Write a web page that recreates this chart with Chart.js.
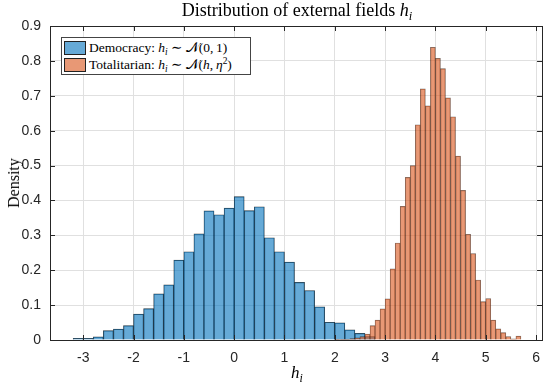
<!DOCTYPE html>
<html>
<head>
<meta charset="utf-8">
<script src="https://cdn.jsdelivr.net/npm/chart.js@4.4.0/dist/chart.umd.min.js"></script>
<style>
    body { margin: 0; background: #fff; }
    #wrap { position: relative; width: 550px; height: 386px; }
    .tex { position: absolute; font-family: 'Liberation Serif', 'DejaVu Serif', serif; color: #000; white-space: nowrap; }
    #title { left: 50px; width: 494px; top: 0px; text-align: center; font-size: 18px; }
    #xlabel { left: 50px; width: 494px; top: 363px; text-align: center; font-size: 17px; }
    #ylabel { left: 14px; top: 183px; font-size: 16px; transform: translate(-50%, -50%) rotate(-90deg); }
    #legend { left: 61px; top: 37px; width: 188px; border: 1px solid #444; background: #fff; font-size: 13.5px; padding: 1px 0; }
    .row { display: flex; align-items: center; height: 17px; }
    .swatch { width: 22px; height: 14px; margin: 0 3px 0 2px; box-sizing: border-box; border: 1px solid #222; }
    sub { font-size: 70%; vertical-align: -0.3em; line-height: 0; }
</style>
</head>
<body>
<div id="wrap">
    <canvas id="chart" width="550" height="386"></canvas>
    <div id="title" class="tex">Distribution of external fields <i>h<sub>i</sub></i></div>
    <div id="xlabel" class="tex"><i>h<sub>i</sub></i></div>
    <div id="ylabel" class="tex">Density</div>
    <div id="legend" class="tex"></div>
</div>
<script>
// Histogram bins (left edge of first bin and bin width)
const democracyBinStart = -3.2;
const democracyBinWidth = 0.2;
const totalitarianBinStart = 2.0;
const totalitarianBinWidth = 0.1;

// Density of each bin
const democracyDensity = [0.005, 0.005, 0.009, 0.027, 0.031, 0.041, 0.074, 0.090, 0.132, 0.158,
    0.229, 0.253, 0.304, 0.370, 0.359, 0.378, 0.411, 0.371, 0.382, 0.293,
    0.253, 0.223, 0.165, 0.142, 0.095, 0.051, 0.049, 0.029, 0.019, 0.010];

const totalitarianDensity = [0.002, 0.002, 0.002, 0.004, 0.006, 0.010, 0.017, 0.041, 0.057, 0.089,
    0.118, 0.204, 0.278, 0.383, 0.466, 0.500, 0.617, 0.720, 0.671, 0.839,
    0.807, 0.778, 0.694, 0.640, 0.527, 0.429, 0.303, 0.248, 0.172, 0.110,
    0.119, 0.057, 0.032, 0.021, 0.010, 0.003, 0.011];

// Axis ticks
const xTicks = [-3, -2, -1, 0, 1, 2, 3, 4, 5, 6];
const yTicks = [0, 0.1, 0.2, 0.3, 0.4, 0.5, 0.6, 0.7, 0.8, 0.9];
const xRange = [-3.66, 6.12];

const legendLabels = [
    'Democracy: <i>h<sub>i</sub></i> &#8764; &#119977;(0,&#8201;1)',
    'Totalitarian: <i>h<sub>i</sub></i> &#8764; &#119977;(<i>h</i>,&#8201;<i>&#951;</i><sup style="font-size:70%;line-height:0">2</sup>)'
];
const binWidths = [democracyBinWidth, totalitarianBinWidth];

function toBars(start, width, values)
{
    return values.map((v, i) => ({ x: start + width * (i + 0.5), y: v }));
}

// Box around the axes and inner tick marks
const axesBox = {
    id: 'axesBox',
    afterDatasetsDraw(chart) {
        const ctx = chart.ctx;
        const a = chart.chartArea;
        const xs = chart.scales.x;
        const ys = chart.scales.y;
        const len = 5;
        ctx.save();
        ctx.strokeStyle = '#262626';
        ctx.lineWidth = 1;
        ctx.beginPath();
        xTicks.forEach(v => {
            const px = Math.round(xs.getPixelForValue(v)) + 0.5;
            ctx.moveTo(px, a.bottom); ctx.lineTo(px, a.bottom - len);
            ctx.moveTo(px, a.top); ctx.lineTo(px, a.top + len);
        });
        yTicks.forEach(v => {
            const py = Math.round(ys.getPixelForValue(v)) + 0.5;
            ctx.moveTo(a.left, py); ctx.lineTo(a.left + len, py);
            ctx.moveTo(a.right, py); ctx.lineTo(a.right - len, py);
        });
        ctx.stroke();
        ctx.strokeRect(Math.round(a.left) + 0.5, Math.round(a.top) + 0.5,
            Math.round(a.right - a.left), Math.round(a.bottom - a.top));
        ctx.restore();
    }
};

const tickFont = { family: "'Liberation Sans', Arial, sans-serif", size: 14 };

const chart = new Chart(document.getElementById('chart'), {
    type: 'bar',
    data: {
        datasets: [
            {
                label: 'Democracy',
                data: toBars(democracyBinStart, democracyBinWidth, democracyDensity),
                order: 1,
                grouped: false,
                backgroundColor: 'rgba(0, 114, 189, 0.6)',
                borderColor: 'rgba(0, 0, 0, 0.75)',
                borderWidth: 0.5
            },
            {
                label: 'Totalitarian',
                data: toBars(totalitarianBinStart, totalitarianBinWidth, totalitarianDensity),
                order: 0,
                grouped: false,
                backgroundColor: 'rgba(217, 83, 25, 0.6)',
                borderColor: 'rgba(0, 0, 0, 0.55)',
                borderWidth: 0.5
            }
        ]
    },
    options: {
        responsive: false,
        animation: false,
        layout: { padding: { top: 26, right: 6, left: 0, bottom: 0 } },
        plugins: {
            legend: { display: false },
            title: { display: false },
            tooltip: { enabled: false }
        },
        scales: {
            x: {
                type: 'linear',
                offset: false,
                min: xRange[0],
                max: xRange[1],
                afterBuildTicks: s => { s.ticks = xTicks.map(v => ({ value: v })); },
                afterFit: s => { s.height = 46; },
                grid: { color: '#e0e0e0', drawTicks: false, offset: false },
                border: { display: false },
                ticks: { font: tickFont, color: '#262626', padding: 10, maxRotation: 0, callback: v => String(v) }
            },
            y: {
                min: yTicks[0],
                max: yTicks[yTicks.length - 1],
                afterBuildTicks: s => { s.ticks = yTicks.map(v => ({ value: v })); },
                afterFit: s => { s.width = 50; },
                grid: { color: '#e0e0e0', drawTicks: false },
                border: { display: false },
                ticks: { font: tickFont, color: '#262626', padding: 9, callback: v => String(v) }
            }
        }
    },
    plugins: [axesBox]
});

// Bars as wide as one bin on the x scale
var xScale = chart.scales.x;
chart.data.datasets.forEach((ds, i) => {
    ds.barThickness = Math.abs(xScale.getPixelForValue(binWidths[i]) - xScale.getPixelForValue(0));
});
chart.update();

// Legend inside the axes
var legend = document.getElementById('legend');
chart.data.datasets.forEach((ds, i) => {
    var row = document.createElement('div');
    row.className = 'row';
    var sw = document.createElement('span');
    sw.className = 'swatch';
    sw.style.background = ds.backgroundColor;
    var txt = document.createElement('span');
    txt.innerHTML = legendLabels[i];
    row.append(sw);
    row.append(txt);
    legend.append(row);
});
</script>
</body>
</html>
